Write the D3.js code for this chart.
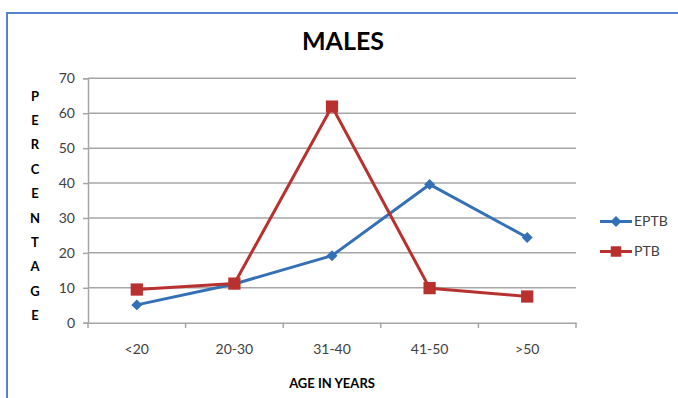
<!DOCTYPE html>
<html><head><meta charset="utf-8">
<script src="https://cdn.jsdelivr.net/npm/d3@7/dist/d3.min.js"></script>
<style>body{margin:0;background:#fff;}svg{display:block;}text{font-family:Lato,"Open Sans",sans-serif;}</style>
</head><body>
<script>
const categories = ["<20","20-30","31-40","41-50",">50"];
const eptb = [5.1, 11.1, 19.2, 39.6, 24.4];
const ptb = [9.5, 11.2, 61.9, 9.9, 7.5];
const yTicks = [0,10,20,30,40,50,60,70];
const seriesNames = ["EPTB","PTB"];
const colors = ["#3470b6","#b8312f"];

const W=678,H=398;
const svg=d3.select("body").append("svg").attr("width",W).attr("height",H);
svg.append("rect").attr("x",7).attr("y",13).attr("width",W).attr("height",H).attr("fill","#fff").attr("stroke","#5682cf").attr("stroke-width",2);

const x=d3.scaleBand().domain(categories).range([88,576]);
const y=d3.scaleLinear().domain([0,70]).range([322.7,78.3]);

// gridlines
svg.append("g").selectAll("line").data(yTicks.slice(1)).join("line")
 .attr("x1",88).attr("x2",576).attr("y1",d=>y(d)).attr("y2",d=>y(d))
 .attr("stroke","#a6a6a6").attr("stroke-width",1.5);

const ya=svg.append("g").attr("transform","translate(88,0)").call(d3.axisLeft(y).tickValues(yTicks).tickSize(5).tickPadding(8));
ya.select(".domain").attr("stroke","#a6a6a6").attr("stroke-width",1.5);
ya.selectAll(".tick line").attr("stroke","#a6a6a6").attr("stroke-width",1.5);
ya.selectAll("text").attr("font-size",14).attr("fill","#404040").attr("font-family","Lato");

const xa=svg.append("g").attr("transform","translate(0,322.7)").call(d3.axisBottom(x).tickSize(0).tickPadding(21));
xa.select(".domain").attr("stroke","#a6a6a6").attr("stroke-width",1.5);
xa.selectAll("text").attr("font-size",14).attr("fill","#404040").attr("font-family","Lato");
// x tick marks at band boundaries
svg.append("g").selectAll("line").data(categories.concat(["end"])).join("line")
 .attr("x1",(d,i)=>i<categories.length?x(d):x.range()[1]).attr("x2",(d,i)=>i<categories.length?x(d):x.range()[1])
 .attr("y1",322.7).attr("y2",328).attr("stroke","#a6a6a6").attr("stroke-width",1.5);

const line=d3.line().x((d,i)=>x(categories[i])+x.bandwidth()/2).y(d=>y(d));
[eptb,ptb].forEach((s,k)=>{
  svg.append("path").datum(s).attr("d",line).attr("fill","none").attr("stroke",colors[k]).attr("stroke-width",3).attr("stroke-linejoin","round");
  const sym = k===0? d3.symbol(d3.symbolDiamond2? d3.symbolSquare2 : d3.symbolSquare,0) : null;
  svg.append("g").selectAll("path").data(s).join("path")
   .attr("transform",(d,i)=>`translate(${x(categories[i])+x.bandwidth()/2},${y(d)})`+(k===0?" rotate(45)":""))
   .attr("d",k===0? d3.symbol(d3.symbolSquare,60)() : d3.symbol(d3.symbolSquare,150)())
   .attr("fill",colors[k]);
});

// legend
seriesNames.forEach((n,k)=>{
  const ly=221.5+k*30;
  svg.append("line").attr("x1",600).attr("x2",632).attr("y1",ly).attr("y2",ly).attr("stroke",colors[k]).attr("stroke-width",3);
  svg.append("path").attr("transform",`translate(616,${ly})`+(k===0?" rotate(45)":""))
   .attr("d",k===0? d3.symbol(d3.symbolSquare,60)() : d3.symbol(d3.symbolSquare,110)()).attr("fill",colors[k]);
  svg.append("text").attr("x",634).attr("y",ly).attr("dy","0.35em").attr("font-size",14).attr("fill","#404040").text(n);
});

// title
svg.append("text").attr("x",343).attr("y",50).attr("text-anchor","middle").attr("font-size",25).attr("font-weight","bold").attr("fill","#000").text("MALES");
// x title
svg.append("text").attr("x",332).attr("y",388).attr("text-anchor","middle").attr("font-size",13).attr("font-weight","bold").attr("fill","#000").text("AGE IN YEARS");
// y title vertical letters
const yl="PERCENTAGE".split("");
svg.append("g").selectAll("text").data(yl).join("text")
 .attr("x",35).attr("y",(d,i)=>96+i*24.4).attr("dy","0.35em").attr("text-anchor","middle")
 .attr("font-size",13).attr("font-weight","bold").attr("fill","#000").text(d=>d);
</script>
</body></html>
